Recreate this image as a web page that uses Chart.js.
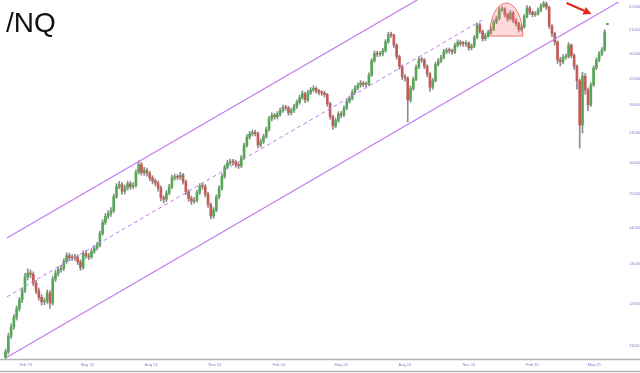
<!DOCTYPE html>
<html><head><meta charset="utf-8">
<script src="https://cdn.jsdelivr.net/npm/chart.js@4/dist/chart.umd.min.js"></script>
<style>
html,body{margin:0;padding:0;background:#fff;}
#wrap{position:relative;width:640px;height:373px;overflow:hidden;}
#title{position:absolute;left:6px;top:9px;font:28px/28px "Liberation Sans",Arial,sans-serif;color:#111;}
canvas{position:absolute;left:0;top:0;}
</style></head><body>
<div id="wrap"><canvas id="c" width="640" height="373"></canvas><div id="title">/NQ</div></div>
<script>
const chartTitle = '/NQ';
const firstCandleDate = '2023-01-03';
const candleStepDays = 4;

const opens = [
10750,10870,11220,11440,11660,11870,12090,12320,12670,12770,
12740,12510,12310,12150,12040,12060,12260,12010,12610,12760,
12860,12890,13080,13230,13180,13170,13190,13060,12920,13290,
13230,13200,13350,13440,13520,13840,14160,14340,14420,14500,
14930,15240,15300,15090,15200,15330,15240,15270,15690,15940,
15680,15760,15660,15510,15410,15350,15200,14890,14850,15040,
15230,15520,15540,15530,15600,15390,15080,14870,14790,14820,
15050,15250,15240,15010,14690,14350,14520,14920,15190,15560,
15850,15990,16030,16020,15940,15900,16170,16580,16860,16970,
17020,16990,16590,16710,16880,17130,17500,17630,17580,17670,
17800,17910,17900,17720,17800,17940,18100,18280,18430,18190,
18460,18570,18630,18530,18470,18450,18390,18050,17590,17250,
17440,17680,17640,17890,18140,18250,18480,18640,18750,18830,
18780,18790,19140,19710,20010,19980,19990,20120,20490,20790,
20770,20350,19880,19480,19070,19020,18190,18620,18980,19450,
19760,19740,19490,19190,18670,18920,19560,19700,19840,20080,
20130,20120,20070,20340,20470,20410,20400,20430,20240,20300,
20670,21210,20930,20620,20740,20880,21020,21330,21500,21880,
21910,21670,21480,21740,21420,21270,21020,21120,21580,21960,
21760,21660,21700,21860,22050,22150,21990,21160,20830,20480,
19740,19670,19860,19880,20350,19930,19490,18920,17280,19100,
18570,18010,18760,19420,19740,19990,20150,21230];

const highs = [
10930,11290,11510,11730,11940,12150,12390,12760,12880,12850,
12800,12580,12380,12220,12140,12330,12320,12680,12840,12940,
12970,13150,13310,13300,13260,13270,13250,13120,13360,13370,
13300,13420,13510,13600,13910,14240,14420,14510,14600,15010,
15330,15400,15370,15290,15410,15400,15360,15770,16060,16010,
15850,15830,15720,15580,15480,15420,15260,14960,15120,15310,
15600,15630,15620,15690,15660,15440,15140,14950,14900,15130,
15330,15340,15300,15060,14740,14600,14990,15270,15640,15930,
16080,16120,16110,16090,16000,16250,16660,16950,17060,17110,
17100,17040,16800,16960,17210,17590,17720,17700,17760,17890,
18000,17990,17960,17890,18030,18190,18370,18530,18490,18550,
18660,18730,18690,18590,18550,18520,18440,18100,17640,17530,
17760,17760,17970,18230,18340,18570,18730,18840,18930,18900,
18880,19230,19800,20110,20100,20090,20220,20580,20890,20900,
20820,20400,19940,19540,19170,19080,18720,19070,19540,19850,
19860,19800,19550,19240,19010,19650,19800,19940,20180,20230,
20230,20190,20440,20570,20550,20510,20530,20490,20400,20760,
21300,21280,20990,20840,20980,21120,21430,21600,21980,22030,
21970,21730,21840,21800,21490,21330,21220,21670,22060,22030,
21830,21800,21960,22150,22260,22220,22040,21220,20890,20530,
19850,19960,19980,20450,20400,19990,19550,18990,19250,19200,
18650,18850,19510,19830,20080,20250,21000,21280];

const lows = [
10700,10820,11170,11380,11600,11810,12020,12270,12590,12650,
12440,12240,12080,11960,11970,12000,11880,11960,12550,12690,
12790,12830,13020,13110,13100,13100,12990,12840,12870,13160,
13120,13150,13290,13380,13470,13790,14100,14270,14340,14450,
14870,15170,15000,15010,15130,15150,15170,15220,15630,15600,
15590,15570,15420,15320,15260,15100,14800,14740,14780,14980,
15170,15440,15450,15460,15310,14990,14780,14690,14720,14760,
14990,15150,14920,14600,14260,14280,14470,14860,15130,15500,
15790,15920,15940,15850,15810,15840,16110,16520,16790,16900,
16900,16490,16520,16640,16820,17070,17430,17490,17500,17600,
17730,17810,17630,17640,17730,17880,18030,18210,18090,18130,
18390,18500,18440,18380,18360,18300,17960,17490,17130,17180,
17380,17540,17580,17830,18070,18190,18410,18570,18670,18690,
18680,18730,19080,19640,19880,19890,19910,20060,20420,20670,
20250,19770,19370,18960,18900,17390,18110,18550,18920,19390,
19640,19390,19080,18510,18590,18870,19490,19630,19780,20000,
20020,19970,20000,20270,20310,20300,20300,20130,20150,20240,
20610,20840,20520,20540,20670,20810,20960,21260,21430,21800,
21560,21370,21410,21310,21160,20900,20940,21060,21510,21660,
21560,21580,21630,21790,21980,21880,21050,20700,20350,19600,
19500,19580,19760,19820,19820,19360,18600,16490,17000,18400,
17800,17950,18700,19350,19670,19920,20100,21210];

const closes = [
10870,11220,11440,11660,11870,12090,12320,12670,12770,12740,
12510,12310,12150,12040,12060,12260,12010,12610,12760,12860,
12890,13080,13230,13180,13170,13190,13060,12920,13290,13230,
13200,13350,13440,13520,13840,14160,14340,14420,14500,14930,
15240,15300,15090,15200,15330,15240,15270,15690,15940,15680,
15760,15660,15510,15410,15350,15200,14890,14850,15040,15230,
15520,15540,15530,15600,15390,15080,14870,14790,14820,15050,
15250,15240,15010,14690,14350,14520,14920,15190,15560,15850,
15990,16030,16020,15940,15900,16170,16580,16860,16970,17020,
16990,16590,16710,16880,17130,17500,17630,17580,17670,17800,
17910,17900,17720,17800,17940,18100,18280,18430,18190,18460,
18570,18630,18530,18470,18450,18390,18050,17590,17250,17440,
17680,17640,17890,18140,18250,18480,18640,18750,18830,18780,
18790,19140,19710,20010,19980,19990,20120,20490,20790,20770,
20350,19880,19480,19070,19020,18190,18620,18980,19450,19760,
19740,19490,19190,18670,18920,19560,19700,19840,20080,20130,
20120,20070,20340,20470,20410,20400,20430,20240,20300,20670,
21210,20930,20620,20740,20880,21020,21330,21500,21880,21910,
21670,21480,21740,21420,21270,21020,21120,21580,21960,21760,
21660,21700,21860,22050,22150,21990,21160,20830,20480,19740,
19670,19860,19880,20350,19930,19490,18920,17280,19100,18570,
18010,18760,19420,19740,19990,20150,20910,21250];

const xRangeDates = ['2022-12-26', '2025-06-10'];
const xTickDates = ['2023-02-01','2023-05-01','2023-08-01','2023-11-01','2024-02-01','2024-05-01','2024-08-01','2024-11-01','2025-02-01','2025-05-01'];
const xTickLabels = ['Feb 23','May 23','Aug 23','Nov 23','Feb 24','May 24','Aug 24','Nov 24','Feb 25','May 25'];
const yRange = [10711, 22317];
const yTickValues = [11000,12000,13000,14000,15000,16000,17000,18000,19000,20000,21000,22000];
const yTickLabels = ['11000','12000','13000','14000','15000','16000','17000','18000','19000','20000','21000','22000'];

const channelLowerDates = ['2023-01-05', '2025-06-05'];
const channelLowerValues = [10750, 22230];
const channelUpperDates = ['2023-01-05', '2025-06-05'];
const channelUpperValues = [13720, 28340];
const channelMidDates = ['2023-01-05', '2024-11-21'];
const channelMidValues = [12160, 21430];

const domeCenterDate = '2024-12-25';
const domeHalfWidthDays = 24;
const domeBaseValue = 20730;
const domeTopValue = 22180;
const arrowFromDate = '2025-03-22', arrowFromValue = 22180;
const arrowToDate = '2025-04-27', arrowToValue = 21690;

function dayIndex(s) {
  const [y, m, d] = s.split('-').map(Number);
  return (Date.UTC(y, m - 1, d) - Date.UTC(2023, 0, 1)) / 86400000;
}
const startDay = dayIndex(firstCandleDate);
const candleDays = opens.map((_, i) => startDay + candleStepDays * i);

const UP = '#55a955', DOWN = '#c65a5a', WICK = '#8c8c8c', CHAN = '#c27af0';

const bodyData = opens.map((o, i) => ({x: candleDays[i], y: [o, closes[i]]}));
const wickData = lows.map((l, i) => ({x: candleDays[i], y: [l, highs[i]]}));
const toLine = (dates, vals) => dates.map((d, i) => ({x: dayIndex(d), y: vals[i]}));

const decor = {
  id: 'decor',
  afterDatasetsDraw(chart) {
    const {ctx, scales: {x, y}} = chart;
    ctx.save();
    const cd = dayIndex(domeCenterDate);
    const cx = x.getPixelForValue(cd), cy = y.getPixelForValue(domeBaseValue);
    const rx = x.getPixelForValue(cd + domeHalfWidthDays) - cx;
    const ry = cy - y.getPixelForValue(domeTopValue);
    ctx.beginPath();
    ctx.ellipse(cx, cy, rx, ry, 0, Math.PI, 2 * Math.PI);
    ctx.closePath();
    ctx.fillStyle = 'rgba(255,120,120,0.28)';
    ctx.fill();
    ctx.strokeStyle = 'rgba(235,95,95,0.85)';
    ctx.lineWidth = 1;
    ctx.stroke();

    const x0 = x.getPixelForValue(dayIndex(arrowFromDate)), y0 = y.getPixelForValue(arrowFromValue);
    const x1 = x.getPixelForValue(dayIndex(arrowToDate)), y1 = y.getPixelForValue(arrowToValue);
    const ang = Math.atan2(y1 - y0, x1 - x0);
    const hl = 8, hw = 4;
    const bx = x1 - hl * Math.cos(ang), by = y1 - hl * Math.sin(ang);
    ctx.strokeStyle = '#e8231c';
    ctx.fillStyle = '#e8231c';
    ctx.lineWidth = 2;
    ctx.beginPath(); ctx.moveTo(x0, y0); ctx.lineTo(bx, by); ctx.stroke();
    ctx.beginPath();
    ctx.moveTo(x1, y1);
    ctx.lineTo(bx + hw * Math.sin(ang), by - hw * Math.cos(ang));
    ctx.lineTo(bx - hw * Math.sin(ang), by + hw * Math.cos(ang));
    ctx.closePath(); ctx.fill();
    ctx.restore();
  },
  afterDraw(chart) {
    const {ctx, chartArea, width, height} = chart;
    ctx.save();
    ctx.strokeStyle = '#b3b3b3';
    ctx.lineWidth = 1.3;
    ctx.beginPath();
    ctx.moveTo(0, chartArea.bottom + 0.5); ctx.lineTo(width, chartArea.bottom + 0.5);
    ctx.moveTo(0, height - 1.5); ctx.lineTo(width, height - 1.5);
    ctx.stroke();
    ctx.restore();
  }
};

new Chart(document.getElementById('c'), {
  type: 'bar',
  data: {
    datasets: [
      {type: 'line', data: toLine(channelUpperDates, channelUpperValues), borderColor: CHAN, borderWidth: 1.2, pointRadius: 0, fill: false, order: -1},
      {type: 'line', data: toLine(channelLowerDates, channelLowerValues), borderColor: CHAN, borderWidth: 1.2, pointRadius: 0, fill: false, order: -1},
      {type: 'line', data: toLine(channelMidDates, channelMidValues), borderColor: CHAN, borderWidth: 1, borderDash: [4, 3], pointRadius: 0, fill: false, order: -1},
      {data: bodyData, grouped: false, barThickness: 2, minBarLength: 1, order: 0,
       backgroundColor: c => closes[c.dataIndex] >= opens[c.dataIndex] ? UP : DOWN},
      {data: wickData, grouped: false, barThickness: 1, order: 1, backgroundColor: WICK}
    ]
  },
  options: {
    responsive: false, animation: false, devicePixelRatio: 1, events: [],
    layout: {padding: 0},
    plugins: {legend: {display: false}, tooltip: {enabled: false}, title: {display: false}},
    scales: {
      x: {
        type: 'linear', offset: false, bounds: 'data',
        min: dayIndex(xRangeDates[0]), max: dayIndex(xRangeDates[1]),
        grid: {display: false, drawTicks: false}, border: {display: false},
        ticks: {autoSkip: false, maxRotation: 0, padding: 3, color: '#7f7fcc',
                font: {size: 4, family: 'Liberation Sans'},
                callback: (v, i) => xTickLabels[i]},
        afterBuildTicks: s => { s.ticks = xTickDates.map(d => ({value: dayIndex(d)})); },
        afterFit: s => { s.height = 14; s.paddingLeft = 0; s.paddingRight = 0; }
      },
      y: {
        type: 'logarithmic', position: 'right', bounds: 'data',
        min: yRange[0], max: yRange[1],
        grid: {display: false, drawTicks: false}, border: {display: false},
        ticks: {autoSkip: false, padding: 7, color: '#7f7fcc',
                font: {size: 4, family: 'Liberation Sans'},
                callback: (v, i) => yTickLabels[i]},
        afterBuildTicks: s => { s.ticks = yTickValues.map(v => ({value: v})); },
        afterFit: s => { s.width = 18; s.paddingTop = 0; s.paddingBottom = 0; }
      }
    }
  },
  plugins: [decor]
});
</script>
</body></html>
